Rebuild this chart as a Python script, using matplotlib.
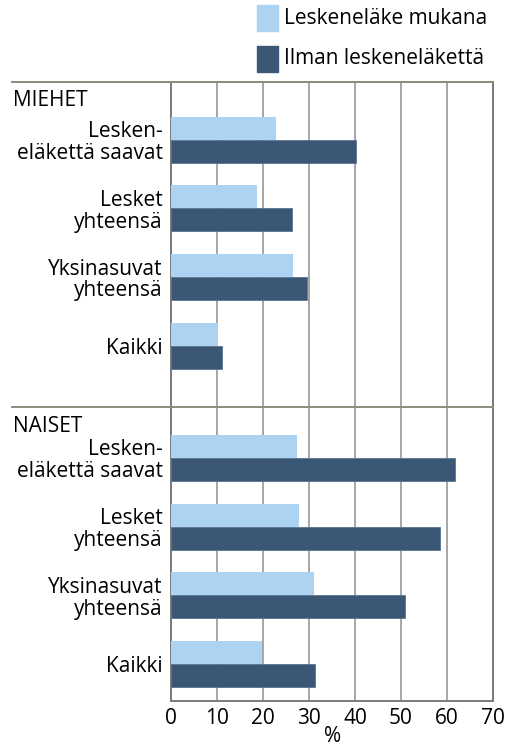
import matplotlib
matplotlib.use("Agg")
import matplotlib.pyplot as plt
from matplotlib.lines import Line2D
from matplotlib.patches import Rectangle

categories = ["Lesken-\neläkettä saavat", "Lesket\nyhteensä", "Yksinasuvat\nyhteensä", "Kaikki"]
series_names = ["Leskeneläke mukana", "Ilman leskeneläkettä"]
men_with = [22.8, 18.7, 26.5, 10.2]
men_without = [40.3, 26.4, 29.6, 11.1]
women_with = [27.4, 27.8, 31.1, 19.8]
women_without = [61.8, 58.5, 50.9, 31.2]
panel_titles = ["MIEHET", "NAISET"]
xticks = [0, 10, 20, 30, 40, 50, 60, 70]
xlabel = "%"

LIGHT = "#acd4f2"
DARK = "#3a5876"
GRID = "#a6a6a6"
SPINE = "#7a7a7a"
FRAME = "#8c8c7e"
FONT = "Open Sans"
FS = 15

W, H = 515, 749
fig = plt.figure(figsize=(W / 100, H / 100), dpi=100)
plt.rcParams['font.family'] = [FONT, 'DejaVu Sans']

def fx(px):
    return px / W

def fy(py):
    return 1 - py / H

ax_left, ax_right = 171, 493
panels = [
    dict(top=82, bottom=407, ylim=(3.89, -0.84), with_=men_with, without=men_without),
    dict(top=407, bottom=701, ylim=(3.54, -0.74), with_=women_with, without=women_without),
]

bh = 0.335
axes = []
for i, p in enumerate(panels):
    ax = fig.add_axes([fx(ax_left), fy(p["bottom"]), fx(ax_right - ax_left), (p["bottom"] - p["top"]) / H])
    axes.append(ax)
    ypos = list(range(len(categories)))
    ax.barh([y - bh / 2 for y in ypos], p["with_"], height=bh, color=LIGHT, zorder=3)
    ax.barh([y + bh / 2 for y in ypos], p["without"], height=bh, color=DARK, zorder=3,
            edgecolor="#5a7590", linewidth=0.6)
    ax.set_xlim(0, 70)
    ax.set_ylim(*p["ylim"])
    ax.set_xticks(xticks)
    ax.xaxis.grid(True, color=GRID, linewidth=1.4, zorder=0)
    ax.set_axisbelow(True)
    ax.set_yticks(ypos)
    ax.set_yticklabels(categories, fontsize=FS, ha="right", linespacing=1.05)
    ax.tick_params(axis="y", length=0, pad=6)
    for s in ["left", "right"]:
        ax.spines[s].set_color(SPINE)
        ax.spines[s].set_linewidth(1.4)
    ax.spines["top"].set_visible(False)
    if i == 0:
        ax.spines["bottom"].set_visible(False)
        ax.tick_params(axis="x", length=0, labelbottom=False)
    else:
        ax.spines["bottom"].set_color(SPINE)
        ax.spines["bottom"].set_linewidth(1.4)
        ax.tick_params(axis="x", length=0, labelsize=FS, pad=5, colors="black")
    # panel title
    fig.text(fx(13), fy(p["top"] + 19), panel_titles[i], fontsize=FS, ha="left", va="center")
    # horizontal frame line extending left
    fig.add_artist(Line2D([fx(12), fx(ax_right)], [fy(p["top"]), fy(p["top"])],
                          color=FRAME, linewidth=1.4, transform=fig.transFigure))

# x-axis label
fig.text(fx(333), fy(737), xlabel, fontsize=FS, ha="center", va="center")

# legend
for j, (name, col) in enumerate(zip(series_names, [LIGHT, DARK])):
    y0 = 5 + j * 41
    fig.add_artist(Rectangle((fx(257), fy(y0 + 26)), fx(21), 26 / H, color=col,
                             transform=fig.transFigure))
    fig.text(fx(284), fy(y0 + 13), name, fontsize=FS, ha="left", va="center")

fig.savefig("out.png", dpi=100)
